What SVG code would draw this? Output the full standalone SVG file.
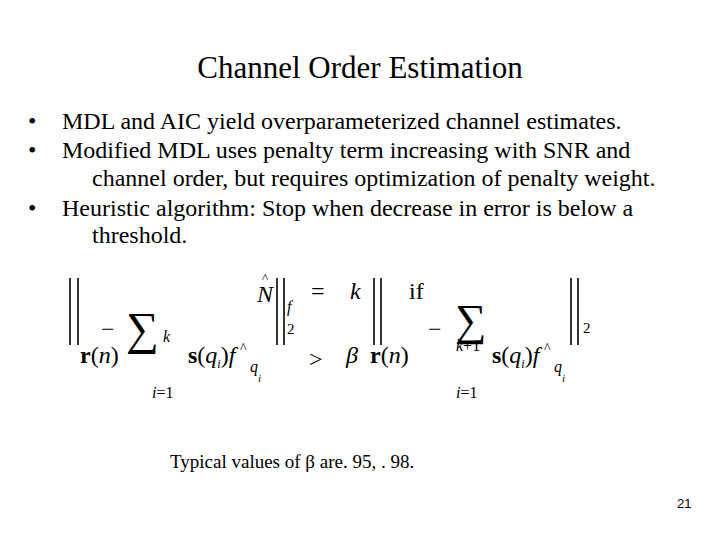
<svg xmlns="http://www.w3.org/2000/svg" width="720" height="540" viewBox="0 0 720 540">
<style>
.t{font-family:"Liberation Serif",serif;fill:#000}
.b{font-size:24px}
.m{font-size:24px}
.s{font-size:16px;font-style:italic}
.bar{stroke:#000;stroke-width:1.6}
</style>
<rect width="720" height="540" fill="#fff"/>
<g id="title"><text class="t" x="360" y="78" font-size="31" text-anchor="middle">Channel Order Estimation</text></g>
<g id="bullets" class="t b">
<text x="28" y="129">•</text><text x="62" y="129">MDL and AIC yield overparameterized channel estimates.</text>
<text x="28" y="158">•</text><text x="62" y="158">Modified MDL uses penalty term increasing with SNR and</text>
<text x="92" y="186">channel order, but requires optimization of penalty weight.</text>
<text x="28" y="216">•</text><text x="62" y="216">Heuristic algorithm:  Stop when decrease in error is below a</text>
<text x="92" y="243">threshold.</text>
</g>
<g id="formula" class="t">
<g class="bar"><line x1="70" y1="278" x2="70" y2="345"/><line x1="78" y1="278" x2="78" y2="345"/>
<line x1="277" y1="278" x2="277" y2="345"/><line x1="284" y1="278" x2="284" y2="345"/>
<line x1="374" y1="278" x2="374" y2="345"/><line x1="381" y1="278" x2="381" y2="345"/>
<line x1="571" y1="278" x2="571" y2="345"/><line x1="578" y1="278" x2="578" y2="345"/></g>
<text class="m" x="80" y="363"><tspan font-weight="bold">r</tspan>(<tspan font-style="italic">n</tspan>)</text>
<text class="m" x="101" y="337">−</text>
<text x="126" y="344" font-size="46">∑</text>
<text class="s" x="163" y="342">k</text>
<text class="s" x="152" y="398">i<tspan font-style="normal">=1</tspan></text>
<text class="m" x="188" y="363"><tspan font-weight="bold">s</tspan>(<tspan font-style="italic">q</tspan><tspan font-size="12" font-style="italic" dy="5">i</tspan><tspan dy="-5">)</tspan><tspan font-style="italic">f</tspan></text>
<text x="240" y="353" font-size="14">^</text>
<text class="s" x="250" y="372">q</text><text x="258" y="382" font-size="11" font-style="italic">i</text>
<text class="m" x="257" y="302" font-style="italic">N</text><text x="262" y="282" font-size="13">^</text>
<text class="s" x="287" y="312">f</text>
<text x="287" y="334" font-size="15">2</text>
<text class="m" x="311" y="299">=</text>
<text class="m" x="350" y="299" font-style="italic">k</text>
<text class="m" x="409" y="299">if</text>
<text class="m" x="309" y="367">&gt;</text>
<text class="m" x="346" y="363" font-style="italic">β</text>
<text class="m" x="370" y="363"><tspan font-weight="bold">r</tspan>(<tspan font-style="italic">n</tspan>)</text>
<text class="m" x="428" y="337">−</text>
<text x="455" y="335" font-size="44">∑</text>
<text class="s" x="456" y="351">k<tspan font-style="normal">+1</tspan></text>
<text class="s" x="456" y="398">i<tspan font-style="normal">=1</tspan></text>
<text class="m" x="492" y="363"><tspan font-weight="bold">s</tspan>(<tspan font-style="italic">q</tspan><tspan font-size="12" font-style="italic" dy="5">i</tspan><tspan dy="-5">)</tspan><tspan font-style="italic">f</tspan></text>
<text x="544" y="353" font-size="14">^</text>
<text class="s" x="554" y="372">q</text><text x="562" y="382" font-size="11" font-style="italic">i</text>
<text x="583" y="333" font-size="15">2</text>
</g>
<g id="note"><text class="t" x="170" y="468" font-size="19">Typical values of β are. 95, . 98.</text></g>
<g id="page"><text x="677" y="508" font-family="Liberation Sans,sans-serif" font-size="13">21</text></g>
</svg>
